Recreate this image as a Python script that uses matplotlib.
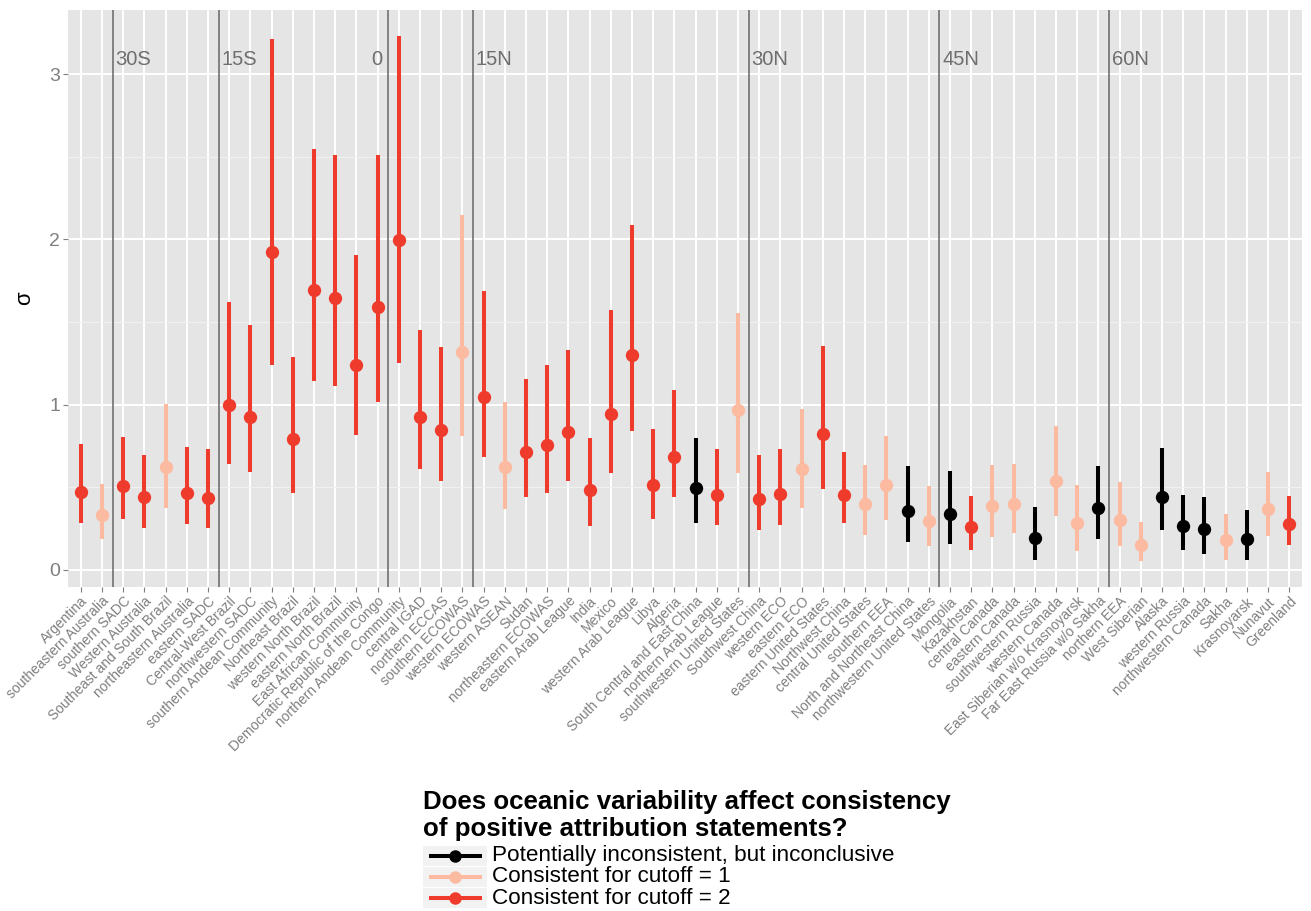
import matplotlib
matplotlib.use('Agg')
import matplotlib.pyplot as plt
from matplotlib.lines import Line2D
from matplotlib.patches import Rectangle
from matplotlib.ticker import FixedLocator

plt.rcParams['font.family'] = ['Liberation Sans', 'DejaVu Sans']

# ---------------- data ----------------
regions = [
    "Argentina", "southeastern Australia", "southern SADC", "Western Australia",
    "Southeast and South Brazil", "northeastern Australia", "eastern SADC",
    "Central-West Brazil", "northwestern SADC", "southern Andean Community",
    "Northeast Brazil", "western North Brazil", "eastern North Brazil",
    "East African Community", "Democratic Republic of the Congo",
    "northern Andean Community", "central IGAD", "northern ECCAS",
    "southern ECOWAS", "western ECOWAS", "western ASEAN", "Sudan",
    "northeastern ECOWAS", "eastern Arab League", "India", "Mexico",
    "western Arab League", "Libya", "Algeria", "South Central and East China",
    "northern Arab League", "southwestern United States", "Southwest China",
    "western ECO", "eastern ECO", "eastern United States", "Northwest China",
    "central United States", "southern EEA", "North and Northeast China",
    "northwestern United States", "Mongolia", "Kazakhstan", "central Canada",
    "eastern Canada", "southwestern Russia", "western Canada",
    "East Siberian w/o Krasnoyarsk", "Far East Russia w/o Sakha", "northern EEA",
    "West Siberian", "Alaska", "western Russia", "northwestern Canada", "Sakha",
    "Krasnoyarsk", "Nunavut", "Greenland",
]

sigma = [
    0.472, 0.333, 0.506, 0.442, 0.622, 0.465, 0.433, 0.998, 0.925, 1.924,
    0.791, 1.694, 1.643, 1.240, 1.591, 1.997, 0.925, 0.848, 1.320, 1.046,
    0.622, 0.713, 0.754, 0.834, 0.483, 0.944, 1.302, 0.513, 0.684, 0.495,
    0.451, 0.966, 0.426, 0.458, 0.609, 0.823, 0.451, 0.397, 0.513, 0.358,
    0.296, 0.335, 0.260, 0.388, 0.401, 0.194, 0.538, 0.283, 0.374, 0.301,
    0.150, 0.440, 0.267, 0.248, 0.180, 0.187, 0.367, 0.278,
]

lower = [
    0.283, 0.187, 0.308, 0.253, 0.372, 0.280, 0.253, 0.638, 0.590, 1.238,
    0.467, 1.144, 1.110, 0.818, 1.017, 1.254, 0.613, 0.540, 0.811, 0.682,
    0.367, 0.438, 0.467, 0.538, 0.264, 0.584, 0.843, 0.310, 0.438, 0.285,
    0.274, 0.586, 0.244, 0.269, 0.374, 0.488, 0.283, 0.212, 0.303, 0.169,
    0.144, 0.157, 0.121, 0.201, 0.221, 0.062, 0.328, 0.114, 0.187, 0.144,
    0.055, 0.239, 0.119, 0.096, 0.059, 0.059, 0.207, 0.150,
]

upper = [
    0.759, 0.522, 0.805, 0.695, 1.003, 0.741, 0.729, 1.621, 1.482, 3.212,
    1.290, 2.546, 2.512, 1.906, 2.512, 3.230, 1.450, 1.347, 2.150, 1.685,
    1.017, 1.156, 1.242, 1.333, 0.798, 1.573, 2.090, 0.850, 1.087, 0.800,
    0.729, 1.557, 0.695, 0.734, 0.973, 1.352, 0.713, 0.634, 0.811, 0.627,
    0.506, 0.597, 0.447, 0.634, 0.643, 0.383, 0.868, 0.515, 0.627, 0.529,
    0.289, 0.736, 0.451, 0.442, 0.340, 0.362, 0.595, 0.447,
]

# 0 = potentially inconsistent, 1 = consistent cutoff 1, 2 = consistent cutoff 2
consistency = [
    2, 1, 2, 2, 1, 2, 2, 2, 2, 2,
    2, 2, 2, 2, 2, 2, 2, 2, 1, 2,
    1, 2, 2, 2, 2, 2, 2, 2, 2, 0,
    2, 1, 2, 2, 1, 2, 2, 1, 1, 0,
    1, 0, 2, 1, 1, 0, 1, 1, 0, 1,
    1, 0, 0, 0, 1, 0, 1, 2,
]

legend_labels = ["Potentially inconsistent, but inconclusive",
                 "Consistent for cutoff = 1",
                 "Consistent for cutoff = 2"]
legend_title = "Does oceanic variability affect consistency\nof positive attribution statements?"

# latitude bands: label and index of last region before the boundary
lat_labels = ["30S", "15S", "0", "15N", "30N", "45N", "60N"]
lat_after = [1, 6, 14, 18, 31, 40, 48]

# ---------------- style ----------------
colors = ["#000000", "#FCBBA1", "#EF3B2C"]
W, H = 1311, 911
fig = plt.figure(figsize=(W / 100, H / 100), dpi=100)
left, right, top, bottom = 68, 1302, 10, 587
ax = fig.add_axes([left / W, 1 - bottom / H, (right - left) / W, (bottom - top) / H])
ax.set_facecolor("#E5E5E5")
for s in ax.spines.values():
    s.set_visible(False)

n = len(regions)
xs = list(range(n))
ax.set_xlim(-0.6, n - 1 + 0.6)
ax.set_ylim(-0.104, 3.389)

# grid
ax.set_yticks([0, 1, 2, 3])
ax.yaxis.set_minor_locator(FixedLocator([0.5, 1.5, 2.5]))
ax.set_xticks(xs)
ax.grid(True, which="major", color="white", linewidth=1.4, zorder=0)
ax.grid(True, which="minor", axis="y", color="#F2F2F2", linewidth=0.7, zorder=0)
ax.set_axisbelow(True)

ax.tick_params(axis="both", which="major", color="#7F7F7F", length=3.6, width=0.8)
ax.tick_params(axis="y", which="minor", length=0)
ax.tick_params(axis="y", labelsize=14, labelcolor="#7F7F7F", pad=2)
ax.tick_params(axis="x", labelsize=10, labelcolor="#7F7F7F", pad=1.5)
ax.set_xticklabels(regions, rotation=45, ha="right", va="top", rotation_mode="anchor")

# latitude lines
for lab, a in zip(lat_labels, lat_after):
    xv = a + 0.5
    ax.axvline(xv, color="#666666", linewidth=1.1, zorder=1)
    if lab == "0":
        ax.annotate(lab, (xv, 3.09), xytext=(-4, 0), textcoords="offset points",
                    ha="right", va="center", fontsize=14.5, color="#6E6E6E")
    else:
        ax.annotate(lab, (xv, 3.09), xytext=(2, 0), textcoords="offset points",
                    ha="left", va="center", fontsize=14.5, color="#6E6E6E")

# error bars and points
for x, y, lo, hi, c in zip(xs, sigma, lower, upper, consistency):
    ax.add_line(Line2D([x, x], [lo, hi], color=colors[c], linewidth=2.9,
                       solid_capstyle="butt", zorder=3))
    ax.plot([x], [y], "o", color=colors[c], markersize=9.6, markeredgewidth=0, zorder=4)

ax.set_ylabel("σ", fontsize=16, color="black", labelpad=10)

# ---------------- legend (manual, ggplot-like) ----------------
def fx(px):
    return px / W

def fy(py):
    return 1 - py / H

fig.text(fx(423), fy(802), legend_title.split("\n")[0], ha="left", va="center",
         fontsize=18.6, fontweight="bold", color="black")
fig.text(fx(423), fy(829), legend_title.split("\n")[1], ha="left", va="center",
         fontsize=18.6, fontweight="bold", color="black")
key_y = [856, 877, 898]
for c, (lab, yc) in enumerate(zip(legend_labels, key_y)):
    fig.patches.append(Rectangle((fx(423), fy(yc + 10)), fx(64), 20 / H,
                                 transform=fig.transFigure, facecolor="#F2F2F2",
                                 edgecolor="none"))
    fig.lines.append(Line2D([fx(429), fx(482)], [fy(yc), fy(yc)],
                            transform=fig.transFigure, color=colors[c],
                            linewidth=2.9, solid_capstyle="butt"))
    fig.lines.append(Line2D([fx(455)], [fy(yc)], transform=fig.transFigure,
                            marker="o", color=colors[c], markersize=9,
                            markeredgewidth=0, linestyle="none"))
    fig.text(fx(492), fy(yc), lab, ha="left", va="center", fontsize=16.2,
             color="black")

fig.savefig("out.png", dpi=100)
